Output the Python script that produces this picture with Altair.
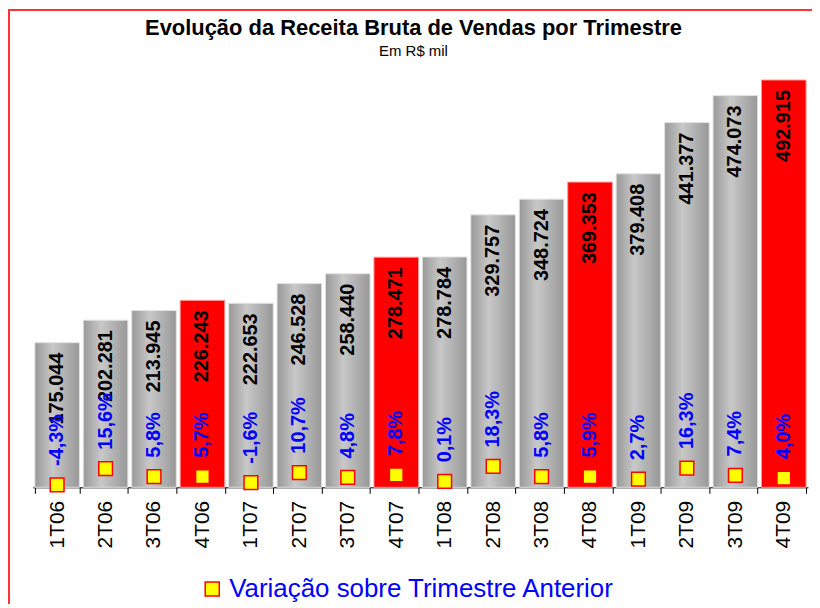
import altair as alt
import pandas as pd

quarters = ["1T06", "2T06", "3T06", "4T06", "1T07", "2T07", "3T07", "4T07",
            "1T08", "2T08", "3T08", "4T08", "1T09", "2T09", "3T09", "4T09"]
revenue = [175044, 202281, 213945, 226243, 222653, 246528, 258440, 278471,
           278784, 329757, 348724, 369353, 379408, 441377, 474073, 492915]
variation = [-4.3, 15.6, 5.8, 5.7, -1.6, 10.7, 4.8, 7.8,
             0.1, 18.3, 5.8, 5.9, 2.7, 16.3, 7.4, 4.0]
legend_label = "Variação sobre Trimestre Anterior"
title_text = "Evolução da Receita Bruta de Vendas por Trimestre"
subtitle_text = "Em R$ mil"

df = pd.DataFrame({"q": quarters, "rev": revenue, "var": variation})
df["q4"] = df["q"].str.startswith("4")
df["rev_lbl"] = df["rev"].map(lambda v: f"{v:,.0f}".replace(",", "."))
df["var_lbl"] = df["var"].map(lambda v: f"{v:.1f}".replace(".", ",") + "%")
df["serie"] = legend_label

FONT = "Liberation Sans"

x_enc = alt.X("q:N", sort=quarters, title=None,
              scale=alt.Scale(paddingInner=0.08, paddingOuter=0.04),
              axis=alt.Axis(labelAngle=270, labelFontSize=21, labelFont=FONT,
                            labelColor="black", domainColor="black", tickColor="black",
                            tickSize=6, tickBand="extent", labelPadding=7,
                            grid=False))
y_rev = alt.Y("rev:Q", axis=None, scale=alt.Scale(domain=[0, 516000]))
y_var = alt.Y("var:Q", axis=None, scale=alt.Scale(domain=[-7.3, 514.6], zero=False))

base = alt.Chart(df)

gray_grad = {"gradient": "linear", "x1": 0, "x2": 1, "y1": 0, "y2": 0,
             "stops": [{"offset": 0, "color": "#999999"},
                       {"offset": 0.4, "color": "#c8c8c8"},
                       {"offset": 1, "color": "#989898"}]}

bars_gray = base.transform_filter("!datum.q4").mark_bar(
    color=gray_grad, stroke="#e2e2e2", strokeWidth=1
).encode(x=x_enc, y=y_rev)

bars_red = base.transform_filter("datum.q4").mark_bar(
    color="#ff0000", stroke="#ff9999", strokeWidth=1
).encode(x=x_enc, y=y_rev)

rev_text = base.mark_text(
    angle=270, align="right", baseline="middle", dx=-10,
    font=FONT, fontSize=20, fontWeight="bold", color="black"
).encode(x=x_enc, y=y_rev, text="rev_lbl:N")

markers = base.mark_square(
    filled=True, size=190, stroke="#ff0000", strokeWidth=1.5, opacity=1
).encode(
    x=x_enc, y=y_var,
    color=alt.Color("serie:N", scale=alt.Scale(range=["#ffff00"]),
                    legend=alt.Legend(orient="none", legendX=167, legendY=517,
                                      title=None, symbolType="square", symbolSize=200,
                                      symbolStrokeColor="#ff0000", symbolStrokeWidth=1.5,
                                      symbolOpacity=1,
                                      labelFontSize=26, labelFont=FONT,
                                      labelColor="#0000ff", labelOffset=4,
                                      labelLimit=600))
)

var_text = base.mark_text(
    angle=270, align="left", baseline="middle", dx=19,
    font=FONT, fontSize=20, fontWeight="bold", color="#0000ff"
).encode(x=x_enc, y=y_var, text="var_lbl:N")

one = alt.Data(values=[{"t": title_text, "s": subtitle_text}])

frame = alt.Chart(one).mark_rect(
    fill="transparent", stroke="#ff3333", strokeWidth=2
).encode(x=alt.value(-24), x2=alt.value(900), y=alt.value(-51), y2=alt.value(700))

title_mark = alt.Chart(one).mark_text(
    font=FONT, fontSize=22, fontWeight="bold", color="black",
    align="center", baseline="alphabetic"
).encode(x=alt.value(382), y=alt.value(-26), text="t:N")

subtitle_mark = alt.Chart(one).mark_text(
    font=FONT, fontSize=15, color="black",
    align="center", baseline="alphabetic"
).encode(x=alt.value(382), y=alt.value(-5), text="s:N")

chart = alt.layer(
    frame, bars_gray, bars_red, rev_text, markers, var_text, title_mark, subtitle_mark
).resolve_scale(
    y="independent"
).properties(
    width=778, height=428,
    autosize=alt.AutoSizeParams(type="none"),
    padding={"left": 25, "top": 52, "right": 4, "bottom": 116},
).configure(background="white").configure_view(stroke=None)

chart.save("out.html", embed_options={"renderer": "svg", "actions": False})
